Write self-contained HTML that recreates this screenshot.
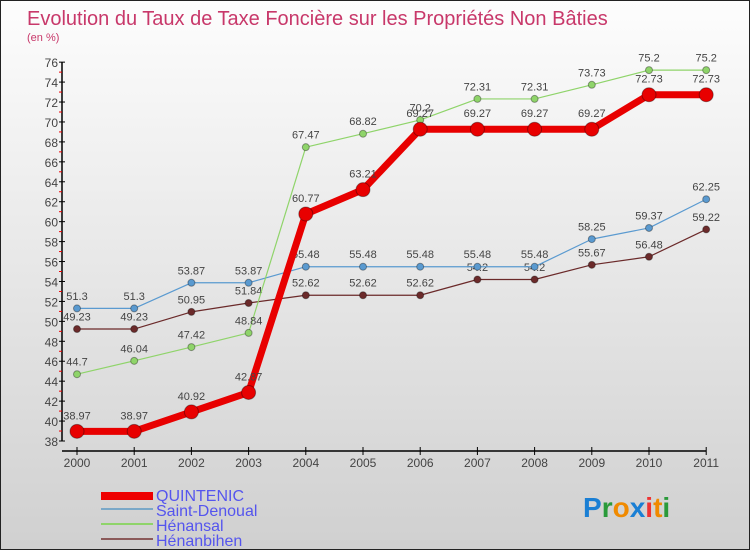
<!DOCTYPE html>
<html><head><meta charset="utf-8"><style>
body{margin:0}
#c{width:750px;height:550px;position:relative;overflow:hidden;font-family:"Liberation Sans",sans-serif;background:linear-gradient(#fdfdfd,#d0d0d0);border:1px solid #222;box-sizing:border-box}
</style></head><body>
<div id="c">
<svg id="s" width="750" height="550" xmlns="http://www.w3.org/2000/svg" style="position:absolute;left:0;top:0">
<text x="26" y="24" font-size="20" fill="#c8386a">Evolution du Taux de Taxe Foncière sur les Propriétés Non Bâties</text>
<text x="26" y="40" font-size="11" fill="#c8386a">(en %)</text>
<g id="axes"></g><g id="series"></g>
<g font-size="16" fill="#5555ee">
<rect x="100" y="491" width="52" height="8" fill="#e00"/>
<text x="155" y="500">QUINTENIC</text>
<rect x="100" y="507" width="52" height="2" fill="#7aa8c8"/>
<text x="155" y="515">Saint-Denoual</text>
<rect x="100" y="522" width="52" height="2" fill="#8fd46a"/>
<text x="155" y="530">Hénansal</text>
<rect x="100" y="537" width="52" height="2" fill="#8b5a5a"/>
<text x="155" y="545">Hénanbihen</text>
</g>
<text x="582" y="516" font-size="28" font-weight="bold"><tspan fill="#1a7fd4">P</tspan><tspan fill="#2a9a3a">r</tspan><tspan fill="#f08a00">o</tspan><tspan fill="#1a7fd4">x</tspan><tspan fill="#e33">i</tspan><tspan fill="#f08a00">t</tspan><tspan fill="#2a9a3a">i</tspan></text>
</svg>
</div>
<script>
const years=[2000,2001,2002,2003,2004,2005,2006,2007,2008,2009,2010,2011];
const quintenic=[38.97,38.97,40.92,42.87,60.77,63.21,69.27,69.27,69.27,69.27,72.73,72.73];
const saintDenoual=[51.3,51.3,53.87,53.87,55.48,55.48,55.48,55.48,55.48,58.25,59.37,62.25];
const henansal=[44.7,46.04,47.42,48.84,67.47,68.82,70.2,72.31,72.31,73.73,75.2,75.2];
const henanbihen=[49.23,49.23,50.95,51.84,52.62,52.62,52.62,54.2,54.2,55.67,56.48,59.22];
const yTicks=[38,40,42,44,46,48,50,52,54,56,58,60,62,64,66,68,70,72,74,76];
const NS="http://www.w3.org/2000/svg";
const X=i=>76+i*57.2, Y=v=>440-(v-38)*9.97;
function mk(t,a,p){const e=document.createElementNS(NS,t);for(const k in a)e.setAttribute(k,a[k]);p.appendChild(e);return e;}
const ax=document.getElementById('axes'),sg=document.getElementById('series');
const yl=mk('line',{x1:61,y1:Y(76),x2:61,y2:Y(38),stroke:'#000','stroke-width':1.5},ax);

const yMax=yTicks[yTicks.length-1];
yTicks.forEach(v=>{mk('line',{x1:58,y1:Y(v),x2:64,y2:Y(v),stroke:'#000'},ax);
 if(v<yMax) mk('line',{x1:58,y1:Y(v+1),x2:61,y2:Y(v+1),stroke:'#e00'},ax);
 const t=mk('text',{x:57,y:Y(v)+5,'text-anchor':'end','font-size':12,fill:'#444'},ax);t.textContent=v;
 });
const xl=mk('line',{x1:61,y1:450,x2:X(11),y2:450,stroke:'#000','stroke-width':1.5},ax);

years.forEach((y,i)=>{mk('line',{x1:X(i),y1:446,x2:X(i),y2:454,stroke:'#000'},ax);
 const t=mk('text',{x:X(i),y:466,'text-anchor':'middle','font-size':12,fill:'#444'},ax);t.textContent=y;
 });
function series(d,col,w,r,name){const g=mk('g',{},sg);
 
 mk('polyline',{points:d.map((v,i)=>X(i)+','+Y(v)).join(' '),fill:'none',stroke:col,'stroke-width':w,'stroke-linejoin':'round'},g);
 d.forEach((v,i)=>{const c=mk('circle',{cx:X(i),cy:Y(v),r:r,fill:col,stroke:'rgba(0,0,0,0.35)'},g);
  
  const t=mk('text',{x:X(i),y:Y(v)-(r+5),'text-anchor':'middle','font-size':11,fill:'#444'},g);t.textContent=v;
  });}
series(henanbihen,'#6b2a2a',1.2,3.5,'henanbihen');
series(saintDenoual,'#5a9ad0',1.2,3.5,'saint-denoual');
series(henansal,'#8fd46a',1.2,3.5,'henansal');
series(quintenic,'#e80000',7,7,'quintenic');
</script>
</body></html>
